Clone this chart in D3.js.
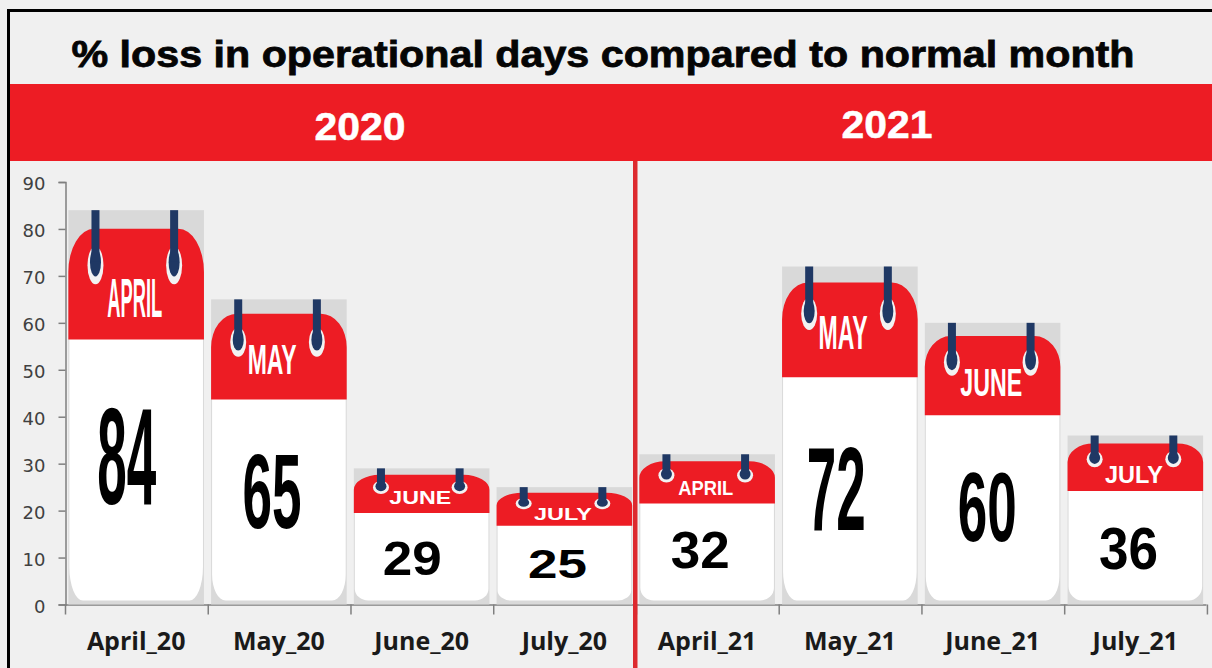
<!doctype html>
<html lang="en">
<head>
<meta charset="utf-8">
<title>% loss in operational days</title>
<script src="https://cdn.jsdelivr.net/npm/d3@7"></script>
<style>
    html, body { margin: 0; background: #f0f0f0; }
    svg { display: block; }
    .y-axis text { font: 18px "DejaVu Sans", sans-serif; fill: #404040; }
    .x-axis text { font: bold 25px "Open Sans", sans-serif; fill: #1a1a1a; }
    .axis line, .axis path { stroke: #7f7f7f; stroke-width: 1.5; }
</style>
</head>
<body>
<svg width="1212" height="668"></svg>
<script>
    var categories = ["April_20", "May_20", "June_20", "July_20", "April_21", "May_21", "June_21", "July_21"];
    var values = [84, 65, 29, 25, 32, 72, 60, 36];
    var months = ["APRIL", "MAY", "JUNE", "JULY", "APRIL", "MAY", "JUNE", "JULY"];
    var yTicks = [0, 10, 20, 30, 40, 50, 60, 70, 80, 90];
    var years = ["2020", "2021"];
    var title = "% loss in operational days compared to normal month";

    var RED = "#ed1c24", NAVY = "#1f3864", GREY = "#d9d9d9";
    var ARIAL = '"Liberation Sans", Arial, sans-serif';

    // where the lettering sits on each calendar picture, as a share of the bar
    var numberCx = [0.43, 0.45, 0.43, 0.45, 0.45, 0.40, 0.46, 0.45];
    var numberCy = [0.62, 0.625, 0.655, 0.645, 0.635, 0.655, 0.65, 0.665];
    var monthStyle = {
        APRIL: {width: 55, cx: 0.49, cy: 0.22},
        MAY: {width: 49, cx: 0.45, cy: 0.195},
        JUNE: {width: 62, cx: 0.49, cy: 0.21},
        JULY: {width: 58, cx: 0.49, cy: 0.23}
    };

    var svg = d3.select("svg");

    var x = d3.scaleBand().domain(categories).range([65.5, 1206]).paddingInner(0.05).paddingOuter(0.02);
    var y = d3.scaleLinear().domain([0, 90]).range([604.5, 182]);

    // frame, title and year band
    svg.append("path").attr("d", "M8.5,668V10.5H1212").attr("fill", "none").attr("stroke", "#000").attr("stroke-width", 3);
    svg.append("text").attr("x", 603).attr("y", 67).attr("text-anchor", "middle")
        .attr("textLength", 1063).attr("lengthAdjust", "spacingAndGlyphs")
        .style("font", "bold 37px " + ARIAL)
        .attr("fill", "#050505").attr("stroke", "#050505").attr("stroke-width", 0.8)
        .text(title);
    svg.append("rect").attr("x", 10).attr("y", 84).attr("width", 1202).attr("height", 77).attr("fill", RED);
    svg.selectAll(".year").data(years).enter().append("text")
        .attr("class", "year")
        .attr("x", function(d, i) { return i ? 887 : 360; })
        .attr("y", function(d, i) { return i ? 138 : 140; })
        .attr("text-anchor", "middle")
        .attr("textLength", 91).attr("lengthAdjust", "spacingAndGlyphs")
        .style("font", "bold 38px " + ARIAL)
        .attr("fill", "#fff").attr("stroke", "#fff").attr("stroke-width", 0.5)
        .text(function(d) { return d; });

    // axes
    var yAxisG = svg.append("g").attr("class", "axis y-axis")
        .attr("transform", "translate(65.5,0)")
        .call(d3.axisLeft(y).tickValues(yTicks).tickSize(7).tickPadding(13).tickSizeOuter(7));
    yAxisG.selectAll("text").attr("dy", "0.42em");

    var xAxisG = svg.append("g").attr("class", "axis x-axis")
        .attr("transform", "translate(0,604.5)")
        .call(d3.axisBottom(x).tickSize(0).tickPadding(28));

    // tick marks sit on the band edges, not the band centres
    xAxisG.selectAll(".edge").data(categories.concat("end")).enter().append("line")
        .attr("class", "edge")
        .attr("x1", function(d, i) { return x.range()[0] + i * x.step(); })
        .attr("x2", function(d, i) { return x.range()[0] + i * x.step(); })
        .attr("y1", 0).attr("y2", 10);

    // one calendar picture per bar, all parts stretched with the bar height
    var cal = svg.selectAll(".cal").data(categories).enter().append("g")
        .attr("class", "cal")
        .attr("transform", function(d, i) { return "translate(" + x(d) + "," + y(values[i]) + ")"; });

    function barH(i) { return y(0) - y(values[i]); }
    var w = x.bandwidth();

    cal.append("rect").attr("width", w).attr("height", function(d, i) { return barH(i); }).attr("fill", GREY);

    // white sheet with rounded bottom
    cal.append("path").attr("fill", "#fff").attr("d", function(d, i) {
        var h = barH(i), rx = w * 0.1, ry = h * 0.085, t = h * 0.3, b = h - 4;
        return "M1," + t + "H" + (w - 1) + "V" + (b - ry) +
            "A" + rx + "," + ry + " 0 0 1 " + (w - 1 - rx) + "," + b +
            "H" + (1 + rx) + "A" + rx + "," + ry + " 0 0 1 1," + (b - ry) + "Z";
    });

    // red header
    cal.append("path").attr("fill", RED).attr("d", function(d, i) {
        var h = barH(i), rx = w * 0.19, ry = h * 0.11, t = h * 0.047, b = h * 0.328;
        return "M0," + b + "V" + (t + ry) +
            "A" + rx + "," + ry + " 0 0 1 " + rx + "," + t +
            "H" + (w - rx) + "A" + rx + "," + ry + " 0 0 1 " + w + "," + (t + ry) +
            "V" + b + "Z";
    });

    // binder rings
    [0.2, 0.78].forEach(function(f) {
        cal.append("ellipse").attr("fill", "#f2f2f2")
            .attr("cx", w * f).attr("rx", 8)
            .attr("cy", function(d, i) { return barH(i) * 0.14; })
            .attr("ry", function(d, i) { return barH(i) * 0.048; });
        cal.append("ellipse").attr("fill", NAVY)
            .attr("cx", w * f).attr("rx", 5.5)
            .attr("cy", function(d, i) { return barH(i) * 0.132; })
            .attr("ry", function(d, i) { return barH(i) * 0.036; });
        cal.append("rect").attr("fill", NAVY)
            .attr("x", w * f - 4).attr("width", 8)
            .attr("height", function(d, i) { return barH(i) * 0.13; });
    });

    // stretched real text, fitted to a width and a share of the bar height
    function fitted(sel, fontSize, capH, widthOf, heightF, cxOf, cyOf) {
        sel.style("font", "bold " + fontSize + "px " + ARIAL)
            .attr("text-anchor", "middle")
            .attr("y", capH / 2)
            .attr("transform", function(d, i) {
                var h = barH(i);
                var sx = widthOf(i) / this.getComputedTextLength();
                var sy = h * heightF / capH;
                return "translate(" + (w * cxOf(i)) + "," + (h * cyOf(i)) + ") scale(" + sx + "," + sy + ")";
            });
    }

    cal.append("text").attr("fill", "#fff").text(function(d, i) { return months[i]; })
        .call(fitted, 30, 21.5,
            function(i) { return monthStyle[months[i]].width; }, 0.1,
            function(i) { return monthStyle[months[i]].cx; },
            function(i) { return monthStyle[months[i]].cy; });

    cal.append("text").attr("fill", "#000").text(function(d, i) { return values[i]; })
        .call(fitted, 60, 43,
            function() { return 59; }, 0.25,
            function(i) { return numberCx[i]; },
            function(i) { return numberCy[i]; });

    // divider between the years, on top of everything
    svg.append("rect").attr("x", 633).attr("y", 161).attr("width", 4.5).attr("height", 507).attr("fill", "#dd2a2f");
</script>
</body>
</html>
